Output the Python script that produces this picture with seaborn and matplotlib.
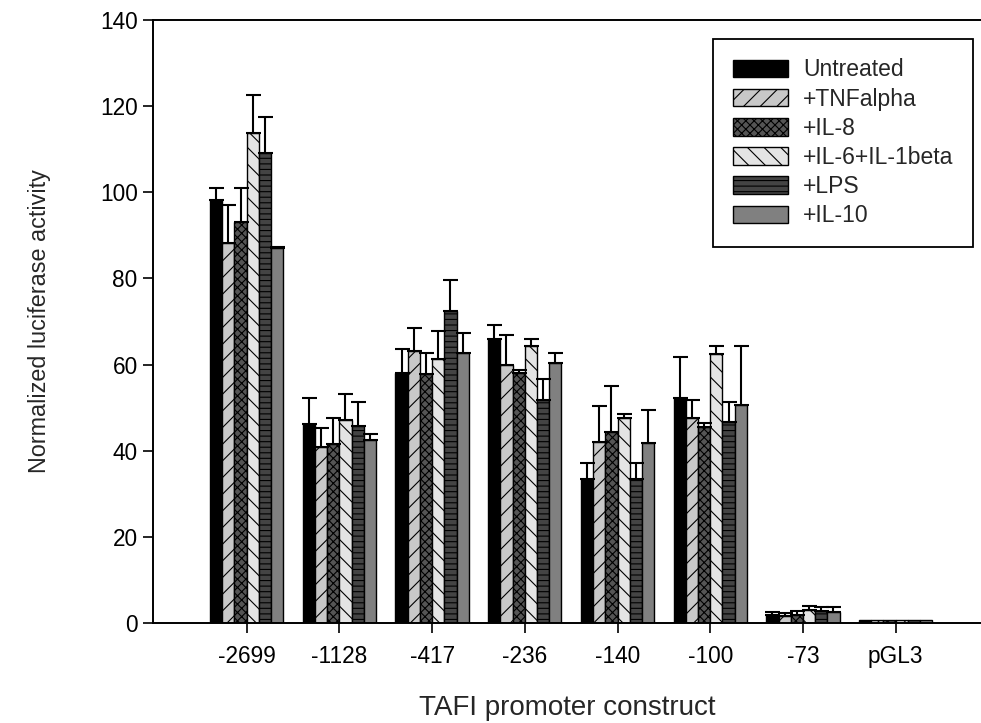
import matplotlib
matplotlib.use("Agg")
import matplotlib.pyplot as plt
import matplotlib.patches as mpatches
import numpy as np
import pandas as pd
import seaborn as sns

# data
constructs = ["-2699", "-1128", "-417", "-236", "-140", "-100", "-73", "pGL3"]
treatments = ["Untreated", "+TNFalpha", "+IL-8", "+IL-6+IL-1beta", "+LPS", "+IL-10"]

untreated = [98.2, 46.3, 58.1, 66.0, 33.4, 52.3, 1.8, 0.6]
untreated_err = [2.7, 5.9, 5.5, 3.2, 3.7, 9.5, 0.8, 0.0]
tnf = [88.2, 40.9, 63.2, 59.9, 42.0, 47.5, 1.6, 0.6]
tnf_err = [8.9, 4.3, 5.4, 7.0, 8.4, 4.2, 0.7, 0.0]
il8 = [93.2, 41.6, 57.7, 58.0, 44.4, 45.4, 1.9, 0.6]
il8_err = [7.7, 5.9, 5.1, 0.7, 10.6, 1.1, 0.8, 0.0]
il6 = [113.8, 47.1, 61.4, 64.2, 47.7, 62.4, 3.0, 0.6]
il6_err = [8.8, 6.1, 6.4, 1.7, 0.8, 2.0, 1.0, 0.0]
lps = [109.2, 45.7, 72.4, 51.8, 33.4, 46.7, 2.8, 0.6]
lps_err = [8.2, 5.5, 7.2, 4.9, 3.7, 4.6, 1.0, 0.0]
il10 = [87.0, 42.6, 62.6, 60.4, 41.7, 50.5, 2.6, 0.6]
il10_err = [0.3, 1.2, 4.8, 2.4, 7.7, 13.9, 1.0, 0.0]

means = [untreated, tnf, il8, il6, lps, il10]
errors = [untreated_err, tnf_err, il8_err, il6_err, lps_err, il10_err]

df = pd.DataFrame({
    "construct": np.tile(constructs, len(treatments)),
    "treatment": np.repeat(treatments, len(constructs)),
    "activity": np.concatenate(means),
})

# bar styles (SigmaPlot-like fills)
faces = ["#000000", "#c8c8c8", "#555555", "#e4e4e4", "#444444", "#808080"]
hatches = [None, "//", "xxxx", "\\\\", "---", None]

sns.set_style("ticks")
plt.rcParams["font.family"] = ["Liberation Sans", "DejaVu Sans"]
plt.rcParams["hatch.linewidth"] = 0.8

fig = plt.figure(figsize=(9.81, 7.23), dpi=100)
ax = fig.add_axes([153 / 981, 1 - 623 / 723, 1 - 153 / 981, 603 / 723])

sns.barplot(
    data=df, x="construct", y="activity", hue="treatment",
    order=constructs, hue_order=treatments,
    palette=faces, saturation=1, errorbar=None,
    edgecolor="black", linewidth=1.0, width=0.79,
    legend=False, ax=ax,
)

bar_groups = list(ax.containers)
for i, cont in enumerate(bar_groups):
    for bar, err in zip(cont, errors[i]):
        if hatches[i]:
            bar.set_hatch(hatches[i])
        if err > 0:
            ax.errorbar(
                bar.get_x() + bar.get_width() / 2, bar.get_height(),
                yerr=[[0], [err]], fmt="none", ecolor="black",
                elinewidth=1.5, capsize=5.4, capthick=1.5, zorder=1,
            )

ax.set_xlim(-1.01, 7.92)
ax.set_ylim(0, 140)
ax.set_yticks(range(0, 141, 20))

for side in ["left", "top", "bottom"]:
    ax.spines[side].set_linewidth(1.4)
    ax.spines[side].set_color("black")
ax.spines["right"].set_visible(False)

ax.tick_params(axis="both", direction="out", length=7, width=1.2,
               labelsize=16.3, colors="black")
ax.tick_params(axis="x", pad=9)
ax.tick_params(axis="y", pad=4)

ax.set_xlabel("TAFI promoter construct", fontsize=20, labelpad=19)
ax.set_ylabel("Normalized luciferase activity", fontsize=16.8, labelpad=35)

handles = [
    mpatches.Patch(facecolor=faces[i], edgecolor="black", linewidth=1.0,
                   hatch=hatches[i], label=treatments[i])
    for i in range(len(treatments))
]
leg = ax.legend(
    handles=handles, loc="upper right", bbox_to_anchor=(0.990, 0.9685),
    borderaxespad=0, fontsize=16.5, frameon=True, fancybox=False,
    edgecolor="black", framealpha=1, handlelength=2.4, handleheight=0.8,
    handletextpad=0.65, labelspacing=0.27, borderpad=0.85,
)
leg.get_frame().set_linewidth(1.3)

fig.savefig("out.png", dpi=100)
